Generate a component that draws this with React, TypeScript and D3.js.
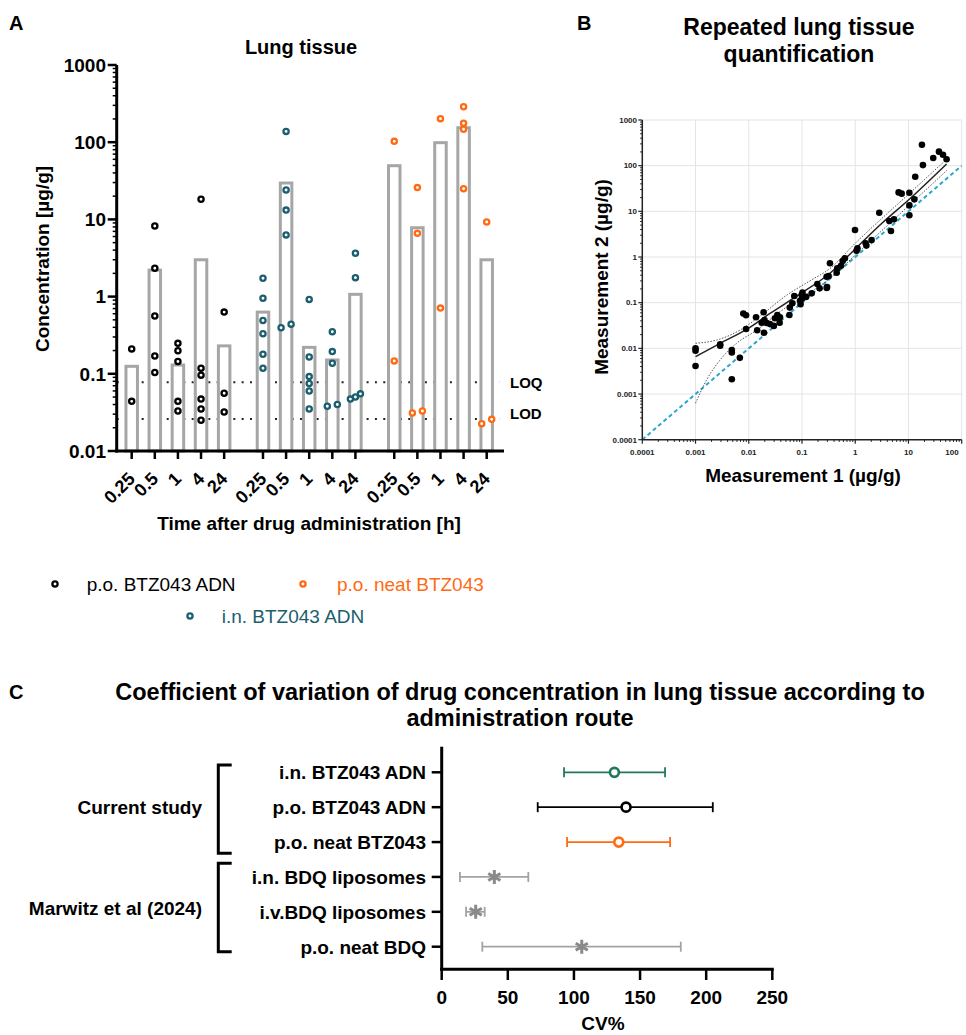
import React from 'react';
import * as d3 from 'd3';

const FONT = "Arial, 'Liberation Sans', Helvetica, sans-serif";

// ---------- Panel A data ----------
const timeLabels = ['0.25', '0.5', '1', '4', '24'];
const groupNames = ['p.o. BTZ043 ADN', 'i.n. BTZ043 ADN', 'p.o. neat BTZ043'];
const groupColors = ['#000000', '#1b5e6e', '#ff6a13'];
const poAdnMeans = [0.125, 2.2, 0.13, 3.0, 0.23];
const inAdnMeans = [0.63, 29.6, 0.22, 0.151, 1.07];
const poNeatMeans = [49.6, 7.8, 98.6, 154, 3.0];
const poAdnPoints = [
  [0.21, 0.044],
  [8.2, 2.33, 0.56, 0.17, 0.104],
  [0.248, 0.199, 0.144, 0.044, 0.033],
  [18.2, 0.118, 0.096, 0.047, 0.035, 0.025],
  [0.63, 0.056, 0.032],
];
const inAdnPoints = [
  [1.73, 0.95, 0.49, 0.33, 0.179, 0.118],
  [138, 24, 13.2, 6.3, 0.44, 0.395],
  [0.92, 0.165, 0.092, 0.075, 0.06, 0.035],
  [0.35, 0.194, 0.137, 0.04, 0.038],
  [3.64, 1.76, 0.055, 0.05, 0.047],
];
const poNeatPoints = [
  [102.6, 0.147],
  [25.8, 6.6, 0.033, 0.031],
  [202, 0.71],
  [288, 176, 147, 25],
  [9.25, 0.0257, 0.0226],
];
const LOQ = 0.078;
const LOD = 0.026;
const yTicksA = [0.01, 0.1, 1, 10, 100, 1000];

// ---------- Panel B data ----------
const meas1 = [
  0.001, 0.001, 0.001, 0.0029, 0.0029, 0.0048, 0.0048, 0.0048, 0.0068, 0.0079, 0.0089, 0.0089,
  0.0137, 0.0144, 0.0175, 0.019, 0.0193, 0.0197, 0.0217, 0.025, 0.031, 0.0296, 0.0344, 0.038,
  0.0386, 0.058, 0.059, 0.066, 0.0716, 0.092, 0.094, 0.099, 0.1, 0.102, 0.119, 0.152, 0.194,
  0.214, 0.291, 0.296, 0.29, 0.316, 0.335, 0.448, 0.46, 0.54, 0.58, 0.64, 0.99, 1.06, 1.1,
  1.57, 1.62, 2.03, 2.83, 4.37, 4.69, 5.35, 6.53, 7.45, 10.4, 10.4, 10.4, 12.9, 13.4, 17.9,
  18.7, 29.2, 37.4, 44.5, 52,
];
const meas2 = [
  0.01, 0.0089, 0.0041, 0.0123, 0.0114, 0.0092, 0.0081, 0.0021, 0.0062, 0.058, 0.053, 0.0265,
  0.048, 0.025, 0.0365, 0.0617, 0.022, 0.0417, 0.0358, 0.034, 0.0455, 0.031, 0.0537, 0.0365,
  0.048, 0.0537, 0.078, 0.097, 0.14, 0.11, 0.093, 0.148, 0.124, 0.166, 0.134, 0.16, 0.257,
  0.206, 0.209, 0.22, 0.37, 0.384, 0.73, 0.454, 0.565, 0.645, 0.817, 0.935, 3.9, 1.38, 1.55,
  1.99, 1.78, 2.36, 9.35, 6.14, 3.71, 6.7, 26, 24.4, 25.6, 13.5, 8.2, 18.3, 57.4, 288,
  103, 147, 203, 174, 138,
];
const fitX = [0.001, 0.0029, 0.0091, 0.025, 0.092, 0.335, 1, 3.13, 10, 52];
const fitY = [0.0066, 0.0129, 0.026, 0.058, 0.155, 0.44, 1.5, 5.4, 17.7, 109];
const upperX = [0.001, 0.0025, 0.0068, 0.0188, 0.052, 0.141, 0.335, 1, 10, 52];
const upperY = [0.0129, 0.0152, 0.025, 0.058, 0.147, 0.3, 0.56, 2.0, 23.6, 138];
const lowerX = [0.001, 0.0016, 0.0029, 0.0059, 0.0141, 0.0386, 0.106, 0.335, 1, 10, 52];
const lowerY = [0.00063, 0.002, 0.0056, 0.0129, 0.025, 0.0635, 0.135, 0.34, 1.1, 13.1, 78];
const xTicksB = [0.0001, 0.001, 0.01, 0.1, 1, 10, 100];
const yTicksB = [0.0001, 0.001, 0.01, 0.1, 1, 10, 100, 1000];

// ---------- Panel C data ----------
const cvRows = [
  'i.n. BTZ043 ADN',
  'p.o. BTZ043 ADN',
  'p.o. neat BTZ043',
  'i.n. BDQ liposomes',
  'i.v.BDQ liposomes',
  'p.o. neat BDQ',
];
const cvMean = [130.6, 139.4, 133.9, 39.8, 25.7, 105.9];
const cvLow = [92.5, 72.6, 94.8, 13.8, 18.4, 30.7];
const cvHigh = [168.9, 205, 172.7, 65.5, 32.5, 180.8];
const cvMarker = ['circle', 'circle', 'circle', 'star', 'star', 'star'];
const cvColors = ['#22795a', '#000000', '#ff6a13', '#8a8a8a', '#8a8a8a', '#8a8a8a'];
const cvBarColors = ['#22795a', '#000000', '#ff6a13', '#a3a3a3', '#a3a3a3', '#a3a3a3'];
const cvTicks = [0, 50, 100, 150, 200, 250];
const studyGroups = ['Current study', 'Marwitz et al (2024)'];

function minorTicks(lo: number, hi: number) {
  const out: number[] = [];
  for (let e = Math.round(Math.log10(lo)); e < Math.round(Math.log10(hi)); e++) {
    for (let k = 2; k <= 9; k++) out.push(k * Math.pow(10, e));
  }
  return out;
}

function fmt(v: number) {
  return String(+v.toPrecision(6));
}

export default function App() {
  // ===== Panel A scales =====
  const yA = d3.scaleLog().domain([0.01, 1000]).range([451, 65]);
  const gapSlots = 5.68;
  const xA = d3.scaleLinear().domain([0, 2 * gapSlots + 4]).range([131.7, 486.7]);
  const slotX = (g: number, i: number) => xA(g * gapSlots + i);
  const means = [poAdnMeans, inAdnMeans, poNeatMeans];
  const points = [poAdnPoints, inAdnPoints, poNeatPoints];
  const axisLeftA = 116.7;
  const axisRightA = 504;
  const barW = 11.5;

  const swarm = (vals: number[], cx: number) => {
    const sorted = [...vals].sort((a, b) => a - b);
    const clusters: number[][] = [];
    sorted.forEach((v) => {
      const last = clusters[clusters.length - 1];
      if (last && Math.abs(yA(v) - yA(last[last.length - 1])) < 5.5) last.push(v);
      else clusters.push([v]);
    });
    const out: { x: number; y: number }[] = [];
    clusters.forEach((c) => {
      const n = c.length;
      const step = n === 1 ? 0 : Math.max(5, 10 / (n - 1));
      c.forEach((v, k) => out.push({ x: cx + (k - (n - 1) / 2) * step, y: yA(v) }));
    });
    return out;
  };

  // ===== Panel B scales =====
  const xB = d3.scaleLog().domain([0.0001, 100]).range([642.3, 961.7]);
  const yB = d3.scaleLog().domain([0.0001, 1000]).range([439.7, 120]);
  const lineB = (xs: number[], ys: number[]) =>
    d3
      .line<number>()
      .x((_, i) => xB(xs[i]))
      .y((d) => yB(d))
      .curve(d3.curveMonotoneX)(ys) || '';

  // ===== Panel C scales =====
  const xC = d3.scaleLinear().domain([0, 250]).range([441.7, 772.3]);
  const yC = d3.scalePoint<string>().domain(cvRows).range([772.3, 946.7]);

  const starPath = (cx: number, cy: number, r: number) => {
    let p = '';
    [90, 30, -30].forEach((a) => {
      const rad = (a * Math.PI) / 180;
      const dx = r * Math.cos(rad);
      const dy = r * Math.sin(rad);
      p += `M${cx - dx},${cy - dy}L${cx + dx},${cy + dy}`;
    });
    return p;
  };

  return (
    <svg
      width={966}
      height={1035}
      style={{ position: 'absolute', left: 0, top: 0, display: 'block', background: '#fff' }}
      fontFamily={FONT}
    >
      <rect x={0} y={0} width={966} height={1035} fill="#fff" />
      {/* ================= Panel A ================= */}
      <text x={9} y={30} fontSize={20} fontWeight="bold">A</text>
      <text x={301} y={54} fontSize={20} fontWeight="bold" textAnchor="middle">Lung tissue</text>

      {/* LOQ / LOD dotted lines */}
      {[LOQ, LOD].map((v, i) => (
        <line key={'lim' + i} x1={axisLeftA} x2={500} y1={yA(v)} y2={yA(v)} stroke="#222" strokeWidth={2} strokeDasharray="2,6.33" />
      ))}
      <text x={510} y={yA(LOQ) + 5.5} fontSize={15} fontWeight="bold">LOQ</text>
      <text x={510} y={yA(LOD) - 5 + 5.5} fontSize={15} fontWeight="bold">LOD</text>

      {/* bars */}
      {means.map((arr, g) =>
        arr.map((m, i) => (
          <rect
            key={`bar${g}-${i}`}
            x={slotX(g, i) - barW / 2}
            y={yA(m)}
            width={barW}
            height={yA(0.01) - yA(m)}
            fill="#fff"
            stroke="#a6a6a6"
            strokeWidth={3}
          />
        ))
      )}

      {/* points */}
      {points.map((grp, g) =>
        grp.map((vals, i) =>
          swarm(vals, slotX(g, i)).map((p, k) => (
            <circle key={`pt${g}-${i}-${k}`} cx={p.x} cy={p.y} r={2.6} fill="#fff" stroke={groupColors[g]} strokeWidth={2.3} />
          ))
        )
      )}

      {/* Y axis A */}
      <line x1={axisLeftA} x2={axisLeftA} y1={yA(1000)} y2={yA(0.01) + 1.5} stroke="#000" strokeWidth={3} />
      {yTicksA.map((t) => (
        <g key={'yta' + t}>
          <line x1={axisLeftA - 9} x2={axisLeftA} y1={yA(t)} y2={yA(t)} stroke="#000" strokeWidth={2.5} />
          <text x={106} y={yA(t) + 6.8} fontSize={19} fontWeight="bold" textAnchor="end">{fmt(t)}</text>
        </g>
      ))}
      {minorTicks(0.01, 1000).map((t) => (
        <line key={'ymA' + t} x1={axisLeftA - 4} x2={axisLeftA} y1={yA(t)} y2={yA(t)} stroke="#000" strokeWidth={1.5} />
      ))}
      <text
        transform={`translate(49,259) rotate(-90)`}
        fontSize={19}
        fontWeight="bold"
        textAnchor="middle"
      >
        Concentration [µg/g]
      </text>

      {/* X axis A */}
      <line x1={axisLeftA - 1.5} x2={axisRightA} y1={yA(0.01)} y2={yA(0.01)} stroke="#000" strokeWidth={3} />
      {means.map((arr, g) =>
        timeLabels.map((lab, i) => (
          <g key={`xta${g}-${i}`}>
            <line x1={slotX(g, i)} x2={slotX(g, i)} y1={yA(0.01)} y2={yA(0.01) + 8} stroke="#000" strokeWidth={2.5} />
            <text
              transform={`translate(${slotX(g, i) + 4.5},480) rotate(-45)`}
              fontSize={18}
              fontWeight="bold"
              textAnchor="end"
            >
              {lab}
            </text>
          </g>
        ))
      )}
      <text x={309} y={530} fontSize={19} fontWeight="bold" textAnchor="middle">
        Time after drug administration [h]
      </text>

      {/* Legend A */}
      {[
        { g: 0, mx: 55, my: 584, tx: 86.7 },
        { g: 2, mx: 303, my: 584, tx: 337 },
        { g: 1, mx: 190, my: 616, tx: 221.7 },
      ].map((l) => (
        <g key={'leg' + l.g}>
          <circle cx={l.mx} cy={l.my} r={2.6} fill="#fff" stroke={groupColors[l.g]} strokeWidth={2.3} />
          <text x={l.tx} y={l.my + 6.8} fontSize={19} fill={groupColors[l.g]}>{groupNames[l.g]}</text>
        </g>
      ))}

      {/* ================= Panel B ================= */}
      <text x={577} y={30} fontSize={20} fontWeight="bold">B</text>
      <text x={799} y={35} fontSize={23} fontWeight="bold" textAnchor="middle">Repeated lung tissue</text>
      <text x={799} y={62} fontSize={23} fontWeight="bold" textAnchor="middle">quantification</text>

      {/* grid */}
      {xTicksB.slice(1).map((t) => (
        <line key={'gxb' + t} x1={xB(t)} x2={xB(t)} y1={yB(1000)} y2={yB(0.0001)} stroke="#e4e4e4" strokeWidth={1} />
      ))}
      {yTicksB.slice(1).map((t) => (
        <line key={'gyb' + t} x1={xB(0.0001)} x2={xB(100)} y1={yB(t)} y2={yB(t)} stroke="#e4e4e4" strokeWidth={1} />
      ))}

      {/* identity line */}
      <line x1={xB(0.0001)} y1={yB(0.0001)} x2={xB(100)} y2={yB(100)} stroke="#2aa7cc" strokeWidth={2} strokeDasharray="4,3" />

      {/* confidence bands and fit */}
      <path d={lineB(upperX, upperY)} fill="none" stroke="#555" strokeWidth={1} strokeDasharray="1.5,1.5" />
      <path d={lineB(lowerX, lowerY)} fill="none" stroke="#555" strokeWidth={1} strokeDasharray="1.5,1.5" />
      <path d={lineB(fitX, fitY)} fill="none" stroke="#222" strokeWidth={1.5} />

      {/* scatter points */}
      {meas1.map((v, i) => (
        <circle key={'sb' + i} cx={xB(v)} cy={yB(meas2[i])} r={3.3} fill="#000" />
      ))}

      {/* axes B */}
      <line x1={xB(0.0001)} x2={xB(0.0001)} y1={yB(1000)} y2={yB(0.0001)} stroke="#222" strokeWidth={1.5} />
      <line x1={xB(0.0001)} x2={xB(100)} y1={yB(0.0001)} y2={yB(0.0001)} stroke="#222" strokeWidth={1.5} />
      {yTicksB.map((t) => (
        <g key={'ytb' + t}>
          <line x1={xB(0.0001) - 4} x2={xB(0.0001)} y1={yB(t)} y2={yB(t)} stroke="#222" strokeWidth={1.2} />
          <text x={637} y={yB(t) + 2.8} fontSize={8} fontWeight="bold" textAnchor="end" fill="#222">{fmt(t)}</text>
        </g>
      ))}
      {minorTicks(0.0001, 1000).map((t) => (
        <line key={'ymb' + t} x1={xB(0.0001) - 2.2} x2={xB(0.0001)} y1={yB(t)} y2={yB(t)} stroke="#222" strokeWidth={1} />
      ))}
      {xTicksB.map((t) => (
        <g key={'xtb' + t}>
          <line x1={xB(t)} x2={xB(t)} y1={yB(0.0001)} y2={yB(0.0001) + 4} stroke="#222" strokeWidth={1.2} />
          <text x={Math.min(xB(t), 952)} y={454.5} fontSize={8} fontWeight="bold" textAnchor="middle" fill="#222">{fmt(t)}</text>
        </g>
      ))}
      {minorTicks(0.0001, 100).map((t) => (
        <line key={'xmb' + t} x1={xB(t)} x2={xB(t)} y1={yB(0.0001)} y2={yB(0.0001) + 2.2} stroke="#222" strokeWidth={1} />
      ))}
      <text x={803} y={482} fontSize={19} fontWeight="bold" textAnchor="middle">Measurement 1 (µg/g)</text>
      <text transform="translate(608,277) rotate(-90)" fontSize={19} fontWeight="bold" textAnchor="middle">
        Measurement 2 (µg/g)
      </text>

      {/* ================= Panel C ================= */}
      <text x={9} y={699} fontSize={20} fontWeight="bold">C</text>
      <text x={520} y={700} fontSize={23.5} fontWeight="bold" textAnchor="middle">
        Coefficient of variation of drug concentration in lung tissue according to
      </text>
      <text x={520} y={726} fontSize={23.5} fontWeight="bold" textAnchor="middle">administration route</text>

      {/* brackets */}
      <path d="M231.7,765H218.3V853.3H231.7" fill="none" stroke="#000" strokeWidth={3} />
      <path d="M231.7,863.3H218.3V951.7H231.7" fill="none" stroke="#000" strokeWidth={3} />
      <text x={202} y={814} fontSize={19} fontWeight="bold" textAnchor="end">{studyGroups[0]}</text>
      <text x={202} y={915} fontSize={19} fontWeight="bold" textAnchor="end">{studyGroups[1]}</text>

      {/* error bars */}
      {cvRows.map((r, i) => {
        const y = yC(r) as number;
        return (
          <g key={'cv' + i}>
            <line x1={xC(cvLow[i])} x2={xC(cvHigh[i])} y1={y} y2={y} stroke={cvBarColors[i]} strokeWidth={1.8} />
            <line x1={xC(cvLow[i])} x2={xC(cvLow[i])} y1={y - 5} y2={y + 5} stroke={cvBarColors[i]} strokeWidth={1.8} />
            <line x1={xC(cvHigh[i])} x2={xC(cvHigh[i])} y1={y - 5} y2={y + 5} stroke={cvBarColors[i]} strokeWidth={1.8} />
            {cvMarker[i] === 'circle' ? (
              <circle cx={xC(cvMean[i])} cy={y} r={4.5} fill="#fff" stroke={cvColors[i]} strokeWidth={2.7} />
            ) : (
              <path d={starPath(xC(cvMean[i]), y, 7)} stroke={cvColors[i]} strokeWidth={3} fill="none" />
            )}
          </g>
        );
      })}

      {/* axes C */}
      <line x1={xC(0)} x2={xC(0)} y1={746.7} y2={970.8} stroke="#000" strokeWidth={3} />
      <line x1={xC(0) - 1.5} x2={xC(250) + 1.5} y1={969.3} y2={969.3} stroke="#000" strokeWidth={3} />
      {cvRows.map((r) => (
        <g key={'yc' + r}>
          <line x1={xC(0) - 10} x2={xC(0)} y1={yC(r) as number} y2={yC(r) as number} stroke="#000" strokeWidth={2.5} />
          <text x={426} y={(yC(r) as number) + 6.8} fontSize={19} fontWeight="bold" textAnchor="end">{r}</text>
        </g>
      ))}
      {cvTicks.map((t) => (
        <g key={'xc' + t}>
          <line x1={xC(t)} x2={xC(t)} y1={969.3} y2={980} stroke="#000" strokeWidth={2.5} />
          <text x={xC(t)} y={1003.5} fontSize={19} fontWeight="bold" textAnchor="middle">{t}</text>
        </g>
      ))}
      <text x={603} y={1030} fontSize={19} fontWeight="bold" textAnchor="middle">CV%</text>
    </svg>
  );
}
